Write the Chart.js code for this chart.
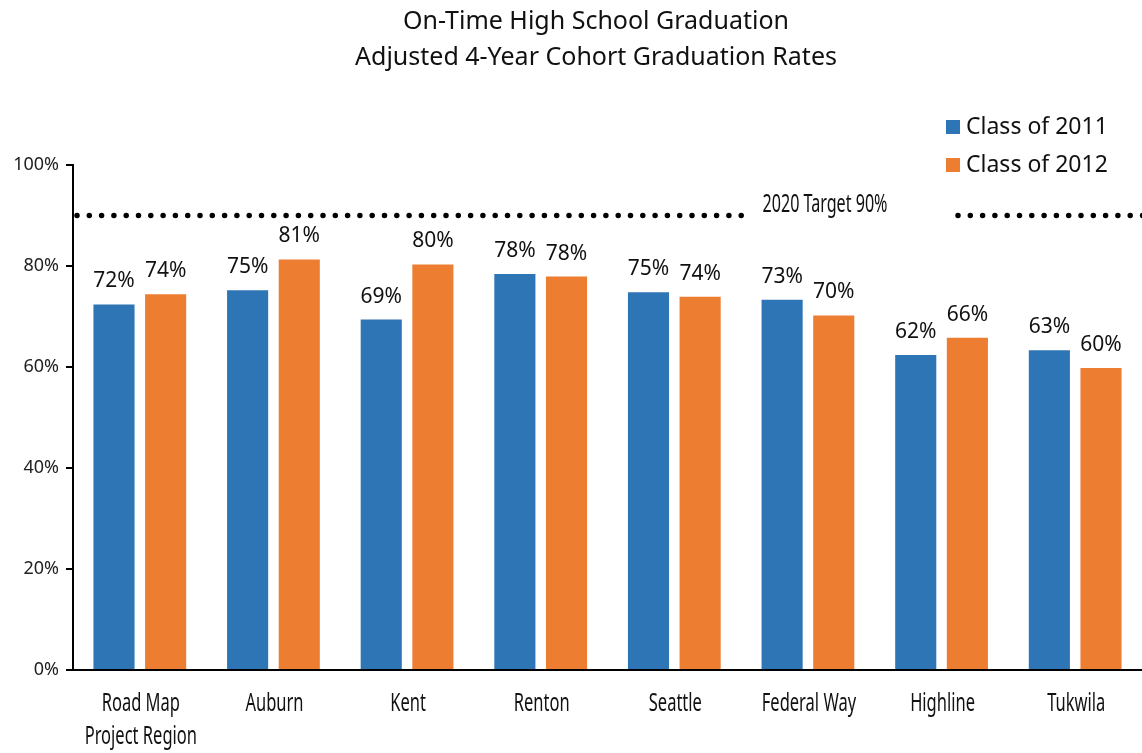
<!DOCTYPE html>
<html>
<head>
<meta charset="utf-8">
<script src="https://cdn.jsdelivr.net/npm/chart.js@4/dist/chart.umd.min.js"></script>
<style>
  body { margin: 0; background: #fff; }
  #wrap { width: 1142px; height: 753px; position: relative; }
</style>
</head>
<body>
<div id="wrap"><canvas id="grafico"></canvas></div>
<script>
// data
const categorias = [["Road Map", "Project Region"], "Auburn", "Kent", "Renton", "Seattle", "Federal Way", "Highline", "Tukwila"];
const clase2011 = [72.4, 75.2, 69.4, 78.4, 74.8, 73.3, 62.4, 63.3];
const clase2012 = [74.4, 81.3, 80.3, 77.9, 73.9, 70.2, 65.8, 59.8];
const nombresSeries = ["Class of 2011", "Class of 2012"];
const colores = ["#2E75B6", "#ED7D31"];
const yTicks = [0, 20, 40, 60, 80, 100];
const meta = 90;
const metaTexto = "2020 Target 90%";
const titulo = ["On-Time High School Graduation", "Adjusted 4-Year Cohort Graduation Rates"];

const fuente = "'Noto Sans', sans-serif";

// condensed text: squeeze horizontally
function textoEstrecho(ctx, txt, x, y, escala) {
  ctx.save();
  ctx.translate(x, y);
  ctx.scale(escala, 1);
  ctx.fillText(txt, 0, 0);
  ctx.restore();
}

// title, legend, target line, category and value labels
const extras = {
  id: "extras",
  beforeDatasetsDraw(chart) {
    const ctx = chart.ctx;
    const area = chart.chartArea;
    const y = chart.scales.y.getPixelForValue(meta);
    ctx.save();
    ctx.strokeStyle = "#000";
    ctx.lineWidth = 5.5;
    ctx.lineCap = "round";
    ctx.setLineDash([0, 12.3]);
    ctx.beginPath();
    ctx.moveTo(area.left + 4, y);
    ctx.lineTo(742, y);
    ctx.moveTo(958, y);
    ctx.lineTo(1145, y);
    ctx.stroke();
    ctx.setLineDash([]);
    ctx.fillStyle = "#111";
    ctx.textAlign = "center";
    ctx.textBaseline = "middle";
    ctx.font = "25px " + fuente;
    const esc = 125 / ctx.measureText(metaTexto).width;
    textoEstrecho(ctx, metaTexto, 825, y - 11, esc);
    ctx.restore();
  },
  afterDatasetsDraw(chart) {
    const ctx = chart.ctx;
    ctx.save();
    ctx.fillStyle = "#111";
    ctx.textAlign = "center";
    ctx.textBaseline = "alphabetic";
    ctx.font = "21px " + fuente;
    chart.data.datasets.forEach((ds, i) => {
      chart.getDatasetMeta(i).data.forEach((bar, j) => {
        ctx.fillText(Math.round(ds.data[j]) + "%", bar.x, bar.y - 17);
      });
    });

    // category labels, condensed
    const xs = chart.scales.x;
    ctx.textBaseline = "middle";
    ctx.font = "25px " + fuente;
    chart.data.labels.forEach((lab, i) => {
      const lineas = Array.isArray(lab) ? lab : [lab];
      lineas.forEach((l, k) => {
        textoEstrecho(ctx, l, xs.getPixelForTick(i) + 1, 704 + k * 33, 0.66);
      });
    });

    // title
    ctx.textBaseline = "alphabetic";
    ctx.font = "25px " + fuente;
    ctx.fillText(titulo[0], 596, 29);
    ctx.fillText(titulo[1], 596, 65);

    // legend
    ctx.textAlign = "left";
    ctx.textBaseline = "middle";
    ctx.font = "23px " + fuente;
    chart.data.datasets.forEach((ds, i) => {
      const ly = 127 + i * 38;
      ctx.fillStyle = ds.backgroundColor;
      ctx.fillRect(946, ly - 7, 14, 14);
      ctx.fillStyle = "#111";
      ctx.fillText(ds.label, 966, ly);
    });
    ctx.restore();
  }
};

new Chart(document.getElementById("grafico"), {
  type: "bar",
  data: {
    labels: categorias,
    datasets: [
      { label: nombresSeries[0], data: clase2011, backgroundColor: colores[0] },
      { label: nombresSeries[1], data: clase2012, backgroundColor: colores[1] }
    ]
  },
  options: {
    responsive: true,
    maintainAspectRatio: false,
    animation: false,
    categoryPercentage: 0.773,
    barPercentage: 0.796,
    layout: { padding: { top: 165, right: 0, left: 1, bottom: 0 } },
    plugins: {
      legend: { display: false },
      title: { display: false },
      tooltip: { enabled: false }
    },
    scales: {
      x: {
        grid: { display: false },
        border: { display: true, color: "#000", width: 2 },
        ticks: {
          color: "rgba(0,0,0,0)",
          font: { family: fuente, size: 22 },
          padding: 20,
          maxRotation: 0,
          autoSkip: false
        },
        afterFit(scale) { scale.height = 83; }
      },
      y: {
        min: 0,
        max: 100,
        afterBuildTicks(scale) { scale.ticks = yTicks.map(v => ({ value: v })); },
        grid: { drawOnChartArea: false, drawTicks: true, tickLength: 7, color: "#000", lineWidth: 2 },
        border: { display: true, color: "#000", width: 2 },
        ticks: {
          color: "#222",
          font: { family: fuente, size: 18 },
          padding: 7,
          callback: v => v + "%"
        },
        afterFit(scale) { scale.width = 72; }
      }
    }
  },
  plugins: [extras]
});
</script>
</body>
</html>
